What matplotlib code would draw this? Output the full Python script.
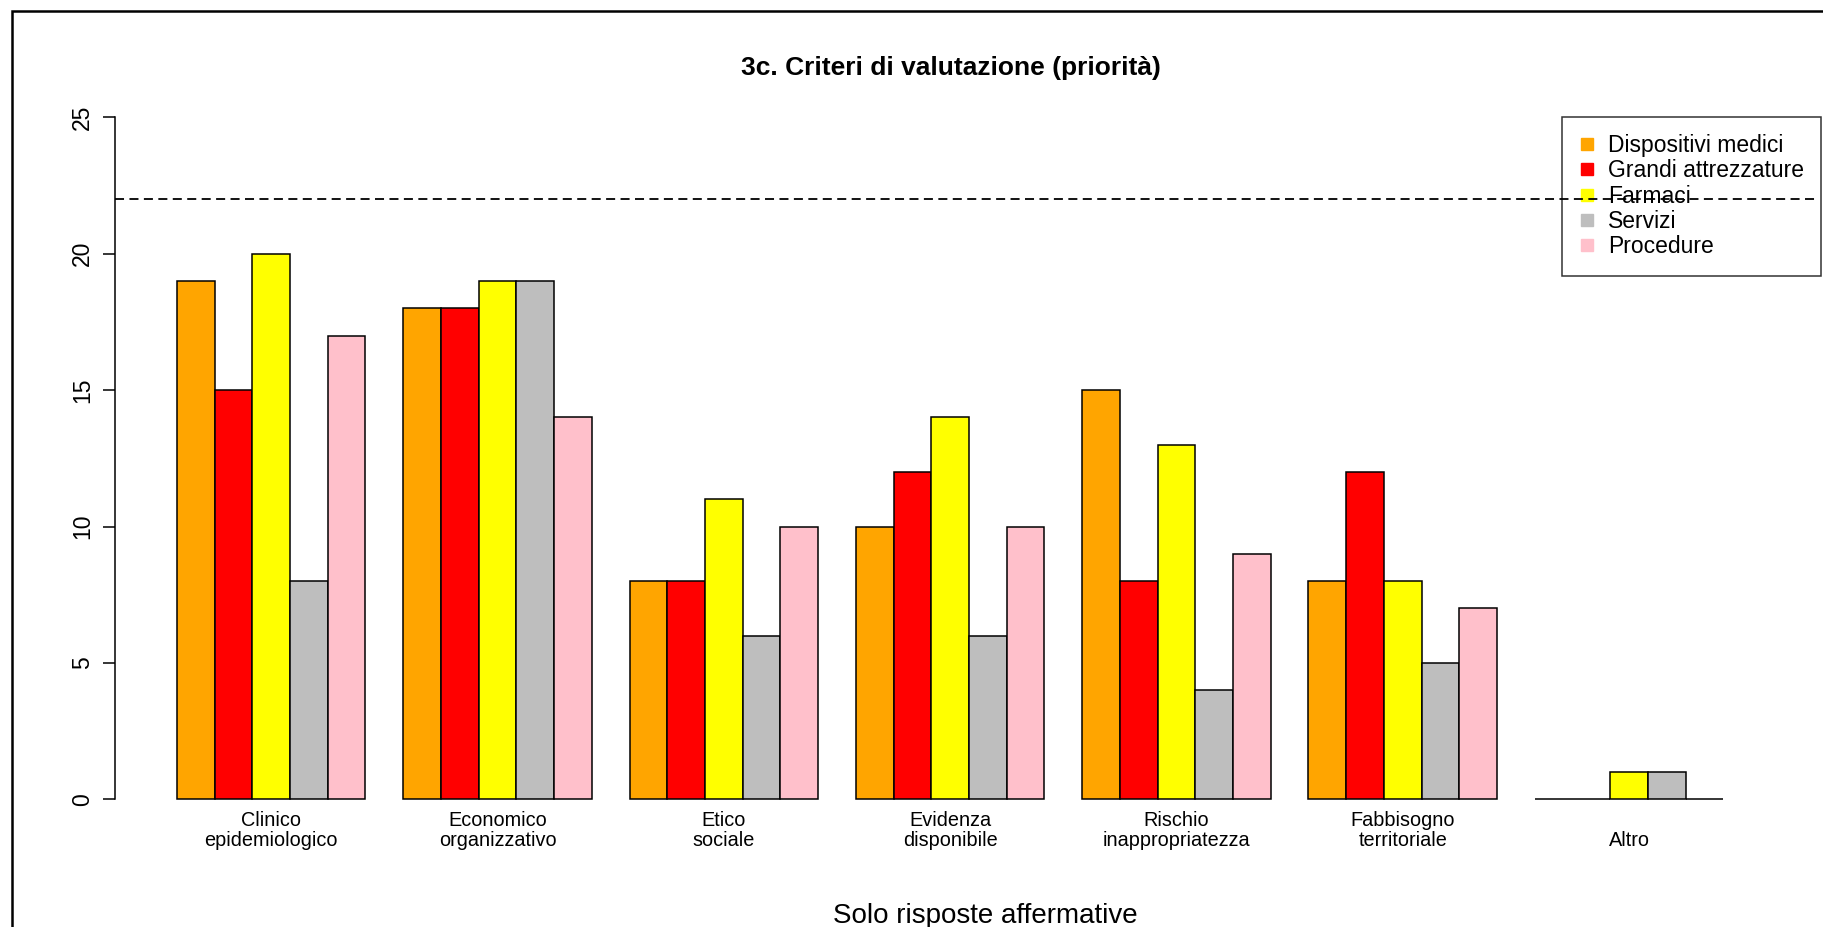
import matplotlib
matplotlib.use('Agg')
import matplotlib.pyplot as plt
from matplotlib.patches import Rectangle
from matplotlib.lines import Line2D
import numpy as np

plt.rcParams['font.family'] = ['Liberation Sans', 'DejaVu Sans']

# dati
criteri = ['Clinico\nepidemiologico', 'Economico\norganizzativo', 'Etico\nsociale',
           'Evidenza\ndisponibile', 'Rischio\ninappropriatezza', 'Fabbisogno\nterritoriale', 'Altro']
serie = ['Dispositivi medici', 'Grandi attrezzature', 'Farmaci', 'Servizi', 'Procedure']
colori = ['orange', 'red', 'yellow', '#bebebe', 'pink']
dispositivi = [19, 18, 8, 10, 15, 8, 0]
grandi = [15, 18, 8, 12, 8, 12, 0]
farmaci = [20, 19, 11, 14, 13, 8, 1]
servizi = [8, 19, 6, 6, 4, 5, 1]
procedure = [17, 14, 10, 10, 9, 7, 0]
valori = [dispositivi, grandi, farmaci, servizi, procedure]
soglia = 22

fig = plt.figure(figsize=(18.23, 9.27), dpi=100)
# area del grafico allargata a destra fino al bordo della legenda
ax = fig.add_axes([115/1823, 1 - 826.6/927, (1815-115)/1823, (826.6-90)/927])

# barplot stile R: gruppi di 5 barre, spazio di 1 tra i gruppi
n = len(serie)
for j in range(n):
    x = np.arange(len(criteri)) * (n + 1) + 1 + j
    ax.bar(x, valori[j], width=1, align='edge', color=colori[j],
           edgecolor='black', linewidth=1.1)

ax.axhline(soglia, color='black', linestyle=(0, (5, 3)), linewidth=1.3, zorder=10)

ax.set_xlim(-0.64, -0.64 + (1815-115)/37.72)
ax.set_ylim(-1, 26)

for s in ['top', 'right', 'bottom']:
    ax.spines[s].set_visible(False)
ax.spines['left'].set_bounds(0, 25)
ax.spines['left'].set_linewidth(1.1)
ax.set_yticks([0, 5, 10, 15, 20, 25])
ax.tick_params(axis='y', length=9, width=1.1, pad=6, labelsize=16.5)
for t in ax.get_yticklabels():
    t.set_rotation(90)
    t.set_va('center')
ax.set_xticks([])

centri = np.arange(len(criteri)) * (n + 1) + 1 + n / 2
for c, lab in zip(centri, criteri):
    ax.text(c, -1.85, lab, ha='center', va='bottom', fontsize=14.3,
            linespacing=1.05, clip_on=False)

fig.text(951/1823, 1 - 68/927, '3c. Criteri di valutazione (priorità)',
         ha='center', va='center', fontsize=19, fontweight='bold')
fig.text(985/1823, 1 - 916/927, 'Solo risposte affermative',
         ha='center', va='center', fontsize=20)

handles = [Line2D([], [], marker='s', linestyle='none', markersize=8,
                  markerfacecolor=c, markeredgecolor=c) for c in colori]
leg = ax.legend(handles, serie, loc='upper right',
                bbox_to_anchor=(1821/1823, 1 - 117/927),
                bbox_transform=fig.transFigure, fontsize=16.5, frameon=True,
                fancybox=False, edgecolor='black', facecolor='none',
                handlelength=0.7, handletextpad=0.55, labelspacing=0.1,
                borderpad=0.75, borderaxespad=0)
leg.get_frame().set_linewidth(1.1)
leg.set_zorder(5)

# cornice esterna
fig.patches.append(Rectangle((12/1823, -0.2), 1.2, 1.2 - 11/927,
                             transform=fig.transFigure, fill=False,
                             edgecolor='black', linewidth=1.8))

fig.savefig('out.png', dpi=100)
